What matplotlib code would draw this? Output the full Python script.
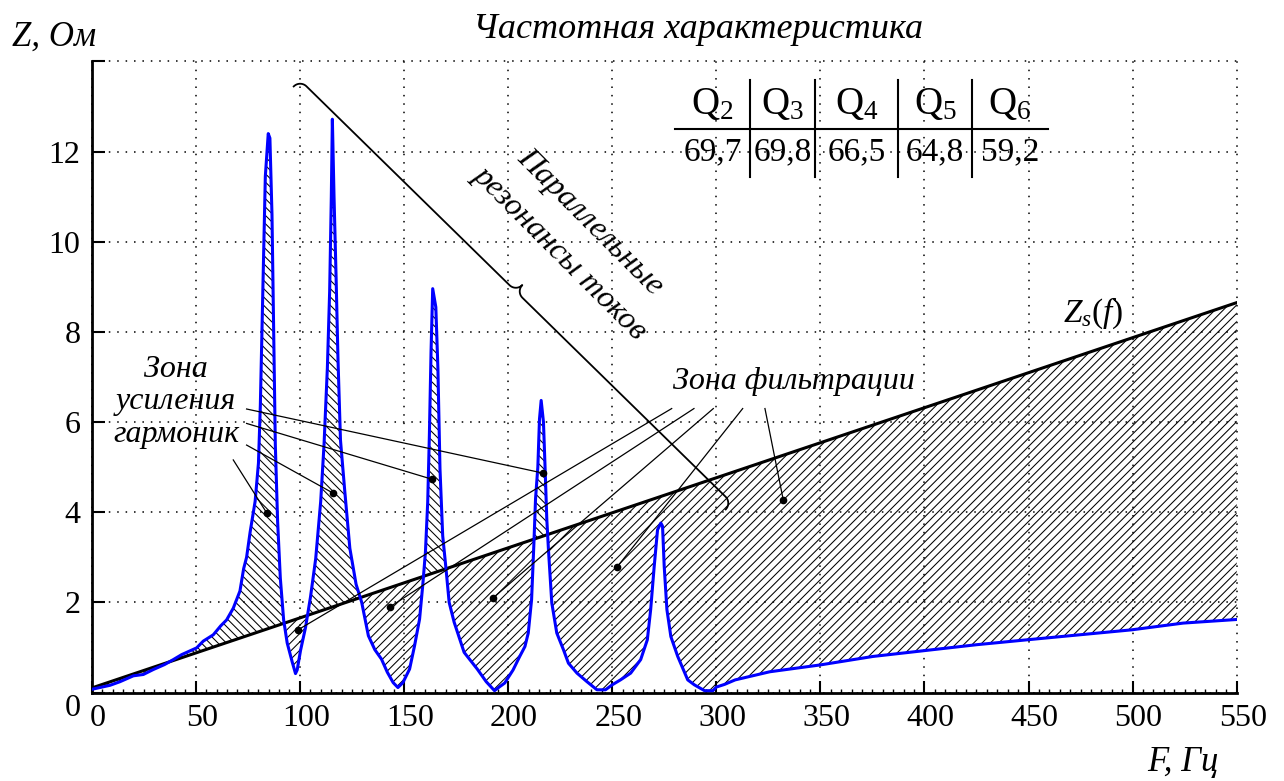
import numpy as np
import matplotlib
matplotlib.use('Agg')
import matplotlib.pyplot as plt
from matplotlib.lines import Line2D
from matplotlib.transforms import ScaledTranslation

plt.rcParams['font.family'] = ['Liberation Serif', 'DejaVu Serif']
plt.rcParams['mathtext.fontset'] = 'custom'
plt.rcParams['mathtext.rm'] = 'Liberation Serif'
plt.rcParams['mathtext.it'] = 'Liberation Serif:italic'
plt.rcParams['hatch.linewidth'] = 0.75
plt.rcParams['hatch.color'] = 'black'

# частотная характеристика фильтра
freq = [0.0, 4.0, 8.8, 13.6, 20.0, 24.8, 29.6, 35.0, 39.2, 43.2, 50.4, 53.6, 58.4,
        62.0, 64.8, 68.0, 71.2, 73.0, 74.4, 76.1, 78.5, 80.1, 81.0, 81.8, 82.6,
        83.4, 84.8, 85.6, 86.6, 87.4, 88.2, 89.3, 90.6, 92.2, 93.9, 96.3, 97.9,
        98.7, 100.3, 102.7, 105.1, 107.6, 110.0, 111.6, 113.2, 114.3, 115.1,
        115.6, 116.4, 117.4, 118.3, 119.5, 121.5, 124.0, 125.7, 127.0, 129.7,
        132.9, 136.0, 139.2, 142.0, 144.8, 147.1, 149.5, 152.7, 155.1, 157.5,
        159.0, 160.3, 161.4, 162.2, 163.0, 163.8, 165.3, 166.3, 167.3, 168.6,
        170.2, 171.7, 174.1, 178.9, 185.2, 189.5, 193.5, 196.0, 198.4, 202.4,
        205.6, 208.1, 209.7, 211.3, 212.4, 213.2, 214.3, 215.1, 215.9, 217.0,
        217.8, 218.6, 219.4, 221.0, 223.4, 226.6, 229.0, 233.1, 237.9, 242.7,
        246.8, 250.0, 254.0, 258.9, 263.7, 266.9, 268.5, 270.2, 271.8, 273.4,
        274.2, 275.0, 276.3, 278.2, 281.5, 286.3, 289.5, 294.4, 298.4, 300.0,
        304.0, 309.1, 325.7, 349.7, 375.3, 400.2, 425.0, 449.5, 474.7, 499.5,
        524.3, 550.0]
z_filter = [0.07, 0.11, 0.16, 0.24, 0.37, 0.40, 0.51, 0.62, 0.73, 0.84, 0.99, 1.14, 1.28,
            1.48, 1.61, 1.87, 2.25, 2.75, 3.0, 3.56, 4.24, 5.09, 6.36, 8.06, 9.75,
            11.45, 12.4, 12.3, 10.6, 8.06, 5.5, 3.8, 2.54, 1.61, 1.10, 0.68, 0.42,
            0.50, 0.93, 1.44, 2.12, 2.97, 4.24, 5.5, 7.2, 8.9, 11.0,
            12.72, 11.0, 9.2, 7.4, 5.6, 4.5, 3.2, 2.74, 2.4, 2.0,
            1.26, 0.95, 0.74, 0.45, 0.22, 0.11, 0.22, 0.52, 1.04, 1.63,
            2.37, 3.11, 4.22, 5.7, 7.56, 8.96, 8.55, 7.19, 4.96, 3.48,
            2.74, 2.0, 1.56, 0.89, 0.52, 0.24, 0.04, 0.13, 0.21, 0.50,
            0.80, 1.02, 1.32, 2.06, 3.3, 4.3, 5.0, 6.07, 6.48, 6.0,
            4.96, 3.85, 3.17, 1.99, 1.32, 0.95, 0.65, 0.43, 0.24, 0.06,
            0.06, 0.17, 0.28, 0.43, 0.73, 1.17, 1.84, 2.80, 3.61, 3.76,
            3.69, 2.80, 1.84, 1.24, 0.80, 0.28, 0.17, 0.04, 0.04, 0.12,
            0.18, 0.28, 0.46, 0.61, 0.80, 0.93, 1.06, 1.17, 1.28, 1.39,
            1.54, 1.62]

# Zs(f) - прямая
zs_f = [0, 550]
zs_z = [0.1, 8.65]

q_labels = ['$\\mathrm{Q}_2$', '$\\mathrm{Q}_3$', '$\\mathrm{Q}_4$', '$\\mathrm{Q}_5$', '$\\mathrm{Q}_6$']
q_values = ['69,7', '69,8', '66,5', '64,8', '59,2']

# точки выносок
amp_dots_f = [84.0, 116.1, 163.6, 216.6]
amp_dots_z = [3.99, 4.42, 4.73, 4.87]
amp_from_f = [68.0, 74.4, 74.4, 74.4]
amp_from_z = [5.16, 5.49, 5.97, 6.29]
flt_dots_f = [99.1, 143.3, 192.8, 252.3, 332.2]
flt_dots_z = [1.39, 1.9, 2.1, 2.78, 4.27]
flt_from_f = [278.6, 289.3, 298.6, 312.7, 323.4]
flt_from_z = [6.3, 6.3, 6.3, 6.3, 6.3]

W, H = 1284, 781
fig = plt.figure(figsize=(W / 100, H / 100), dpi=100)
ax = fig.add_axes([91.7 / W, 88.5 / H, 1145 / W, 631 / H])

def px(x, y):
    return x / W, 1 - y / H

f = np.array(freq)
z = np.array(z_filter)
zs_at = np.interp(f, zs_f, zs_z)

ax.fill_between(f, z, zs_at, where=z >= zs_at, interpolate=True,
                facecolor='none', edgecolor='black', hatch='\\\\\\\\', linewidth=0)
ax.fill_between(f, z, zs_at, where=z <= zs_at, interpolate=True,
                facecolor='none', edgecolor='black', hatch='////', linewidth=0)
ax.plot(zs_f, zs_z, color='black', lw=2.2, zorder=4)
ax.plot(f, z, color='#0000ff', lw=2.2, zorder=5)

# выноски
for x0, y0, x1, y1 in zip(amp_from_f, amp_from_z, amp_dots_f, amp_dots_z):
    ax.plot([x0, x1], [y0, y1], color='black', lw=0.9, zorder=6)
for x0, y0, x1, y1 in zip(flt_from_f, flt_from_z, flt_dots_f, flt_dots_z):
    ax.plot([x0, x1], [y0, y1], color='black', lw=0.9, zorder=6)
ax.plot(amp_dots_f + flt_dots_f, amp_dots_z + flt_dots_z, 'o', color='black', ms=4.5, zorder=7)

ax.set_xlim(0, 550)
ax.set_ylim(0, 14)
ax.set_xticks(range(0, 551, 50))
ax.set_xticks(np.arange(0, 551, 5), minor=True)
ax.set_yticks(range(0, 15, 2), labels=[str(v) for v in range(0, 13, 2)] + [''])
ax.tick_params(which='major', direction='in', length=9, width=1.5, labelsize=23, pad=8)
ax.tick_params(which='minor', direction='in', length=3, width=1)
ax.tick_params(axis='y', which='minor', left=False)
ax.grid(True, color='black', linestyle=(0, (1, 4.5)), linewidth=1.1)
for gl in ax.get_xgridlines() + ax.get_ygridlines():
    gl.set_clip_on(False)
for s in ['top', 'right']:
    ax.spines[s].set_visible(False)
for s in ['left', 'bottom']:
    ax.spines[s].set_linewidth(2)
# подписи оси X чуть правее делений, как в оригинале
for lbl in ax.get_xticklabels():
    lbl.set_transform(lbl.get_transform() + ScaledTranslation(0.06, 0, fig.dpi_scale_trans))
ax.get_yticklabels()[0].set_transform(
    ax.get_yticklabels()[0].get_transform() + ScaledTranslation(0, -0.12, fig.dpi_scale_trans))

ax.text(40.5, 6.45, 'Зона\nусиления\nгармоник', style='italic', fontsize=23,
        ha='center', va='center', linespacing=1.15)
ax.text(337.4, 6.89, 'Зона фильтрации', style='italic', fontsize=23, ha='center', va='center')
ax.text(239.3, 10.44, 'Параллельные', style='italic', fontsize=23, ha='center', va='center',
        rotation=-45, rotation_mode='anchor')
ax.text(224.9, 9.75, 'резонансы токов', style='italic', fontsize=23, ha='center', va='center',
        rotation=-45, rotation_mode='anchor')
ax.text(481, 8.42, '$Z_s(f)$', fontsize=24, ha='center', va='center')

# фигурная скобка
p0 = np.array([300.0, H - 80.0])
p1 = np.array([732.0, H - 503.0])
L = np.hypot(*(p1 - p0))
u = (p1 - p0) / L
n = np.array([-u[1], u[0]])
h = 9.0
a = np.linspace(np.pi, np.pi / 2, 12)
t1, s1 = h + h * np.cos(a), -h + h * np.sin(a)
b = np.linspace(-np.pi / 2, 0, 12)
t2, s2 = L / 2 - h + h * np.cos(b), h + h * np.sin(b)
t = np.concatenate([t1, t2, L - t2[::-1], L - t1[::-1]])
s = np.concatenate([s1, s2, s2[::-1], s1[::-1]])
bx = p0[0] + t * u[0] + s * n[0]
by = p0[1] + t * u[1] + s * n[1]
fig.add_artist(Line2D(bx / W, by / H, color='black', lw=1.3))

# таблица добротностей
col_edges = [675, 750, 815, 898, 972, 1048]
for i in range(5):
    cx = (col_edges[i] + col_edges[i + 1]) / 2
    fig.text(*px(cx, 104), q_labels[i], fontsize=28, ha='center', va='center')
    fig.text(*px(cx, 152), q_values[i], fontsize=24, ha='center', va='center')
for xe in col_edges[1:-1]:
    fig.add_artist(Line2D([xe / W, xe / W], [1 - 80 / H, 1 - 177 / H], color='black', lw=1.5))
fig.add_artist(Line2D([675 / W, 1048 / W], [1 - 129 / H, 1 - 129 / H], color='black', lw=1.5))

fig.text(*px(698, 30), 'Частотная характеристика', style='italic', fontsize=26,
         ha='center', va='center')
fig.text(*px(12, 37), 'Z, Ом', style='italic', fontsize=25, ha='left', va='center')
fig.text(*px(1183, 763), 'F, Гц', style='italic', fontsize=25, ha='center', va='center')

fig.savefig('out.png', dpi=100)
